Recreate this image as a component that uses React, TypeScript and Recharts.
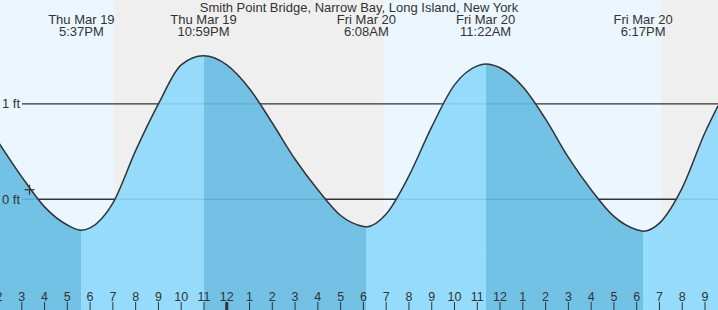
import {
  ComposedChart, Area, XAxis, YAxis, ReferenceArea, ReferenceLine, ReferenceDot,
} from 'recharts';

// hours since Thu Mar 19 00:00
const tideTimes = [
  14, 15, 16, 17, 17.62, 18, 19, 20, 21, 22, 22.98, 24, 25, 26, 27, 28, 29, 30, 30.13,
  31, 32, 33, 34, 35, 35.37, 36, 37, 38, 39, 40, 41, 42, 42.28, 43, 44, 45, 45.57,
];
const tideLevels = [
  0.59, 0.235, -0.08, -0.27, -0.325, -0.3, -0.04, 0.51, 1.0, 1.41, 1.505, 1.41, 1.16, 0.8, 0.42, 0.1, -0.17, -0.285, -0.29,
  -0.155, 0.245, 0.76, 1.2, 1.4, 1.42, 1.38, 1.18, 0.84, 0.44, 0.1, -0.18, -0.32, -0.335, -0.25, 0.12, 0.7, 0.98,
];

const extremeTimes = [17.617, 22.983, 30.133, 35.367, 42.283];
const extremeDays = ['Thu Mar 19', 'Thu Mar 19', 'Fri Mar 20', 'Fri Mar 20', 'Fri Mar 20'];
const extremeClock = ['5:37PM', '10:59PM', '6:08AM', '11:22AM', '6:17PM'];

// sunset / sunrise / sunset
const sunTimes = [19.05, 30.9, 43.07];

const hourTicks = Array.from({ length: 32 }, (_, i) => 14 + i);
const levelLines = [1, 0];
const nowTime = 15.34;
const nowLevel = 0.1;

const TITLE = 'Smith Point Bridge, Narrow Bay, Long Island, New York';

const W = 718;
const H = 310;
const T0 = 14;
const T1 = 45.57;
const FONT = '"Liberation Sans", Arial, sans-serif';
const TEXT = '#333';
const DAY = '#ebf6ff';
const NIGHT = '#efefef';
const FALLING = '#65bce3';
const RISING = '#8cd9fc';

const data = tideTimes.map((t, i) => ({ t, level: tideLevels[i] }));

// falling tide before the first low, then alternating
const bounds = [T0, ...extremeTimes, T1];
const stops: { off: number; color: string }[] = [];
for (let i = 0; i < bounds.length - 1; i++) {
  const color = i % 2 === 0 ? FALLING : RISING;
  stops.push({ off: (bounds[i] - T0) / (T1 - T0), color });
  stops.push({ off: (bounds[i + 1] - T0) / (T1 - T0), color });
}

const bands = [T0, ...sunTimes, T1];

export default function App() {
  return (
    <div style={{ position: 'relative', width: W, height: H }}>
      <style>{'body{margin:0}'}</style>
      <ComposedChart width={W} height={H} data={data} margin={{ top: 0, right: 0, bottom: 0, left: -1 }}>
        <defs>
          <linearGradient id="tideFill" x1="0" y1="0" x2="1" y2="0">
            {stops.map((s, i) => (
              <stop key={i} offset={s.off} stopColor={s.color} />
            ))}
          </linearGradient>
        </defs>
        <XAxis hide type="number" dataKey="t" domain={[T0, T1]} allowDataOverflow />
        <YAxis hide type="number" domain={[-1.162, 2.091]} allowDataOverflow />
        {bands.slice(0, -1).map((b, i) => (
          <ReferenceArea
            key={'band' + i}
            x1={b}
            x2={bands[i + 1]}
            fill={i % 2 === 0 ? DAY : NIGHT}
            fillOpacity={1}
            stroke="none"
            zIndex={-50}
          />
        ))}
        {levelLines.map((v) => (
          <ReferenceLine
            key={'lvl' + v}
            y={v}
            zIndex={50}
            shape={(p: any) => (
              <line x1={p.x1 + 23} x2={p.x2} y1={p.y1} y2={p.y2} stroke="#333" strokeWidth={1.3} />
            )}
          />
        ))}
        <Area
          type="monotone"
          dataKey="level"
          baseValue={-1.162}
          stroke="#333"
          strokeWidth={1.5}
          fill="url(#tideFill)"
          fillOpacity={0.9}
          isAnimationActive={false}
          dot={false}
          activeDot={false}
        />
        {levelLines.map((v) => (
          <ReferenceLine
            key={'lbl' + v}
            y={v}
            zIndex={2000}
            shape={(p: any) => (
              <text x={p.x1 + 3} y={p.y1 + 4.5} fontSize={13} fontFamily={FONT} fill={TEXT}>
                {v} ft
              </text>
            )}
          />
        ))}
        {hourTicks.map((h) => (
          <ReferenceLine
            key={'h' + h}
            x={h}
            zIndex={2000}
            shape={(p: any) => (
              <g>
                <line x1={p.x1} x2={p.x1} y1={H - 8} y2={H} stroke={TEXT} strokeWidth={h % 24 === 0 ? 3 : 1} />
                <text x={p.x1} y={H - 9.5} textAnchor="middle" fontSize={12.5} fontFamily={FONT} fill={TEXT}>
                  {h % 12 === 0 ? 12 : h % 12}
                </text>
              </g>
            )}
          />
        ))}
        {extremeTimes.map((t, i) => (
          <ReferenceLine
            key={'ext' + i}
            x={t}
            zIndex={2000}
            shape={(p: any) => (
              <text textAnchor="middle" fontSize={13} fontFamily={FONT} fill={TEXT}>
                <tspan x={p.x1} y={24}>{extremeDays[i]}</tspan>
                <tspan x={p.x1} y={36}>{extremeClock[i]}</tspan>
              </text>
            )}
          />
        ))}
        <ReferenceDot
          x={nowTime}
          y={nowLevel}
          zIndex={2000}
          shape={(p: any) => (
            <g stroke="#333" strokeWidth={1.2}>
              <line x1={p.cx - 5} x2={p.cx + 5} y1={p.cy} y2={p.cy} />
              <line x1={p.cx} x2={p.cx} y1={p.cy - 5} y2={p.cy + 5} />
            </g>
          )}
        />
      </ComposedChart>
      <svg width={W} height={16} style={{ position: 'absolute', left: 0, top: 0 }}>
        <text x={W / 2} y={12} textAnchor="middle" fontSize={13} fontFamily={FONT} fill={TEXT}>
          {TITLE}
        </text>
      </svg>
    </div>
  );
}
